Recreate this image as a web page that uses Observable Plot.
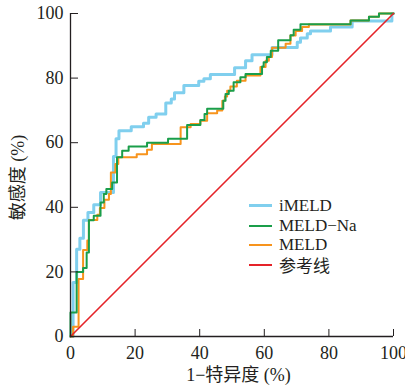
<!DOCTYPE html>
<html>
<head>
<meta charset="utf-8">
<script src="https://cdn.jsdelivr.net/npm/d3@7"></script>
<script src="https://cdn.jsdelivr.net/npm/@observablehq/plot@0.6"></script>
<style>
  html, body { margin: 0; padding: 0; background: #ffffff; }
  #wrap { position: relative; width: 405px; height: 387px; }
  #legend { position: absolute; left: 249px; top: 196px; font-family: "Liberation Serif", "Times New Roman", "DejaVu Serif", "Noto Sans CJK SC", serif; font-size: 17px; color: #231f20; }
  .row { display: flex; align-items: center; height: 19.7px; }
  .sw { width: 23px; height: 0; margin-right: 7px; }
</style>
</head>
<body>
<div id="wrap"><div id="legend"></div></div>
<script>
// ROC curve vertices: [1 - specificity (%), sensitivity (%)], step-after
const iMELD = [[0,0],[0.8,16.7],[1.9,27],[2.9,30.4],[4,36],[5.4,38.4],[7.2,40.8],[9.3,44.6],[13.3,55.7],[14.1,61.2],[15,63.7],[18.8,64.9],[22.6,66],[24.2,67.9],[26.5,68.9],[29.5,72.3],[31.2,73.5],[32.2,75.5],[35.1,77.7],[39.7,79],[41.3,79.8],[43.3,81.1],[50.8,83.2],[54.2,85.4],[56.2,87.2],[62.4,89.5],[70.2,91.1],[71.2,92.4],[73.3,93.7],[74.3,94.6],[80.5,95.8],[87.2,97.7],[99.5,100],[100,100]];
const MELDNa = [[0,0],[0,7.4],[1.9,20],[3.9,21.2],[5,26],[5.7,36],[7.2,37.4],[9.3,41.5],[10.3,44.1],[11.1,45.7],[12.9,47.7],[14.4,55.5],[16,57.5],[18,58.8],[23.7,60],[30.2,61.2],[36.1,65.5],[40.2,67],[41.5,68.9],[42.3,70.5],[47.3,73],[48,75.1],[49,76.1],[50.5,78.7],[52.6,80.3],[54.2,81.3],[59.3,83.6],[59.8,84.9],[60.8,86.5],[62,88.5],[64.3,91.7],[68.1,93.3],[69.1,95],[71.2,96.7],[86.7,97.8],[92.4,99],[95.5,100],[100,100]];
const MELD = [[0,0],[0.8,3],[2.5,17.8],[3.9,26.8],[5.2,29.7],[5.7,36.1],[8.3,37.7],[9.1,39.8],[10.5,42.3],[11.9,44.1],[12.5,50.8],[13.9,53.4],[14.8,55.5],[20.5,56.4],[23.7,57.8],[25.2,59.6],[34.1,64.8],[37.2,65.8],[40.2,66.8],[42.3,69.1],[45.4,70],[47,73],[47.8,74.3],[48.5,76.1],[49.5,77.4],[51.5,79.2],[54.2,80.8],[58.8,83.4],[60.4,85.4],[61.4,86.5],[62.4,89.4],[66.6,90.6],[68.1,93.2],[69.7,94.6],[71.7,95.8],[73.8,96.6],[86.7,97.8],[92.4,99],[95.5,100],[100,100]];
const reference = [[0,0],[100,100]];

const tickValues = [0, 20, 40, 60, 80, 100];
const seriesNames = ["iMELD", "MELD\u2212Na", "MELD", "参考线"];
const seriesColors = ["#80cfee", "#1a9e4a", "#f7941d", "#e52329"];
const seriesWidths = [3, 2, 2, 1.6];
const xLabel = "1\u2212特异度 (%)";
const yLabel = "敏感度 (%)";

const font = '"Liberation Serif", "Times New Roman", "DejaVu Serif", "Noto Sans CJK SC", serif';
const ink = "#231f20";

const chart = Plot.plot({
  width: 405,
  height: 387,
  marginLeft: 70,
  marginRight: 12,
  marginTop: 13,
  marginBottom: 51,
  style: { fontFamily: font, fontSize: "18px", color: ink, background: "transparent" },
  x: { domain: [0, 100] },
  y: { domain: [0, 100] },
  marks: [
    Plot.line(iMELD, { x: d => d[0], y: d => d[1], curve: "step-after", stroke: seriesColors[0], strokeWidth: seriesWidths[0] }),
    Plot.line(MELD, { x: d => d[0], y: d => d[1], curve: "step-after", stroke: seriesColors[2], strokeWidth: seriesWidths[2] }),
    Plot.line(MELDNa, { x: d => d[0], y: d => d[1], curve: "step-after", stroke: seriesColors[1], strokeWidth: seriesWidths[1] }),
    Plot.line(reference, { x: d => d[0], y: d => d[1], stroke: seriesColors[3], strokeWidth: seriesWidths[3] }),
    Plot.axisX({ ticks: tickValues, tickSize: -7, tickPadding: 17, label: null, fontSize: 18, stroke: ink, fill: ink }),
    Plot.axisY({ ticks: tickValues, tickSize: -8, tickPadding: 15, label: null, fontSize: 18, stroke: ink, fill: ink }),
    Plot.ruleY([0], { stroke: ink, strokeWidth: 1.3 }),
    Plot.ruleX([0], { stroke: ink, strokeWidth: 1.3 }),
    Plot.text([xLabel], { frameAnchor: "bottom", textAnchor: "middle", dx: 6.5, dy: 39, lineAnchor: "middle", fontSize: 18, fill: ink }),
    Plot.text([yLabel], { frameAnchor: "left", textAnchor: "middle", rotate: -90, dx: -52, dy: 2.5, lineAnchor: "middle", fontSize: 18, fill: ink })
  ]
});
document.getElementById("wrap").prepend(chart);

const legend = document.getElementById("legend");
seriesNames.forEach((name, i) => {
  const row = document.createElement("div");
  row.className = "row";
  const sw = document.createElement("div");
  sw.className = "sw";
  sw.style.borderTop = `${Math.max(2, seriesWidths[i])}px solid ${seriesColors[i]}`;
  const t = document.createElement("span");
  t.textContent = name;
  row.appendChild(sw);
  row.appendChild(t);
  legend.appendChild(row);
});
</script>
</body>
</html>
